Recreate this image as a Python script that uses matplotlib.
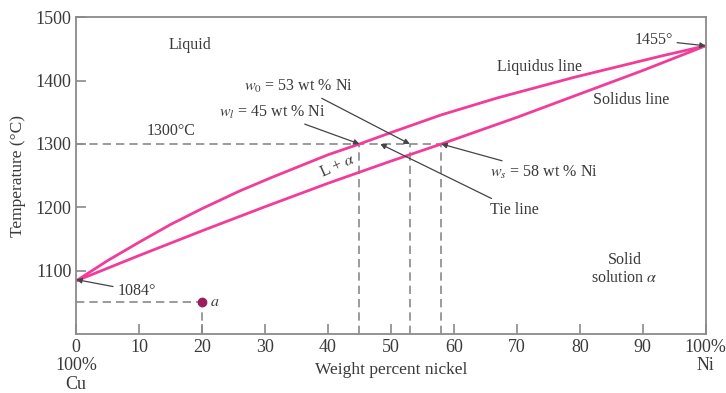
"""
Cu-Ni isomorphous phase diagram (liquidus / solidus with a 1300 C tie line).
"""
import matplotlib
matplotlib.use("Agg")
import matplotlib.pyplot as plt

# liquidus and solidus (wt % Ni, deg C)
liq_ni = [0, 5, 10, 15, 20, 26, 31, 40, 45, 50, 58, 67, 79, 86, 93, 100]
liq_t = [1084, 1116, 1145, 1173, 1198, 1226, 1247, 1283, 1300, 1318, 1346, 1373, 1405, 1422, 1439, 1455]
sol_ni = [0, 10, 20, 30, 40, 50, 58, 70, 80, 90, 100]
sol_t = [1084, 1124, 1163, 1201, 1238, 1273, 1300, 1342, 1379, 1416, 1455]

tie_t = 1300
w_l, w_0, w_s = 45, 53, 58
point_a = (20, 1050)

x_ticks = [0, 10, 20, 30, 40, 50, 60, 70, 80, 90, 100]
x_labels = ["0\n100%\nCu", "10", "20", "30", "40", "50", "60", "70", "80", "90", "100%\nNi"]
y_ticks = [1100, 1200, 1300, 1400, 1500]

TXT = "#3a3a3a"
GRID = "#8a8a8a"
PINK = "#f23c9a"

plt.rcParams["font.family"] = ["Liberation Serif", "DejaVu Serif"]
plt.rcParams["mathtext.fontset"] = "stix"

fig = plt.figure(figsize=(7.26, 3.93), dpi=100)
ax = fig.add_axes([0.105, 0.15, 0.867, 0.806])

dash = dict(color=GRID, lw=1.2, ls=(0, (5, 3)))
ax.plot([0, w_s], [tie_t, tie_t], **dash)
for w in (w_l, w_0, w_s):
    ax.plot([w, w], [1000, tie_t], **dash)
ax.plot([0, point_a[0]], [point_a[1], point_a[1]], **dash)
ax.plot([point_a[0], point_a[0]], [1000, point_a[1]], **dash)

ax.plot(liq_ni, liq_t, color=PINK, lw=2)
ax.plot(sol_ni, sol_t, color=PINK, lw=2)
ax.plot(*point_a, "o", color="#9c1d5f", ms=6, zorder=5)
ax.text(point_a[0] + 1.3, point_a[1], "$a$", color=TXT, fontsize=11.5, va="center")

ax.set_xlim(0, 100)
ax.set_ylim(1000, 1500)
ax.set_xticks(x_ticks)
ax.set_xticklabels(x_labels, linespacing=1.1)
ax.set_yticks(y_ticks)
ax.tick_params(direction="in", length=7, colors=GRID, labelcolor=TXT, labelsize=13, width=1.2)
for s in ax.spines.values():
    s.set_color(GRID)
    s.set_linewidth(1.3)
ax.set_xlabel("Weight percent nickel", color=TXT, fontsize=12.5, va="center")
ax.xaxis.set_label_coords(0.5, -0.114)
ax.set_ylabel("Temperature (°C)", color=TXT, fontsize=12.5, va="center")
ax.yaxis.set_label_coords(-0.093, 0.5)

fs = 11.5
ax.text(18.1, 1457, "Liquid", color=TXT, fontsize=fs, ha="center", va="center")
ax.text(15, 1321, "1300°C", color=TXT, fontsize=fs, ha="center", va="center")
ax.text(73.6, 1422, "Liquidus line", color=TXT, fontsize=fs, ha="center", va="center")
ax.text(88.2, 1369, "Solidus line", color=TXT, fontsize=fs, ha="center", va="center")
ax.text(87.1, 1103, "Solid\nsolution $\\alpha$", color=TXT, fontsize=fs,
        ha="center", va="center", linespacing=1.2)
ax.text(41.5, 1266, "L + $\\alpha$", color=TXT, fontsize=fs, ha="center", va="center", rotation=24)

arrow = dict(arrowstyle="-|>", color="#444444", lw=0.9, mutation_scale=8, shrinkA=1, shrinkB=0)
ax.annotate("$w_0$ = 53 wt % Ni", xy=(w_0, tie_t), xytext=(44, 1391),
            color=TXT, fontsize=fs, ha="right", va="center", arrowprops=arrow)
ax.annotate("$w_l$ = 45 wt % Ni", xy=(w_l, tie_t), xytext=(39.6, 1350),
            color=TXT, fontsize=fs, ha="right", va="center", arrowprops=arrow)
ax.annotate("$w_s$ = 58 wt % Ni", xy=(w_s, tie_t), xytext=(65.8, 1255),
            color=TXT, fontsize=fs, ha="left", va="center", arrowprops=arrow)
ax.annotate("Tie line", xy=(48.3, tie_t), xytext=(65.8, 1196),
            color=TXT, fontsize=fs, ha="left", va="center", arrowprops=arrow)
ax.annotate("1455°", xy=(100, 1455), xytext=(94.8, 1464),
            color=TXT, fontsize=fs, ha="right", va="center", arrowprops=arrow)
ax.annotate("1084°", xy=(0, 1086), xytext=(6.5, 1068),
            color=TXT, fontsize=fs, ha="left", va="center", arrowprops=arrow)

plt.savefig("out.png", dpi=100)
